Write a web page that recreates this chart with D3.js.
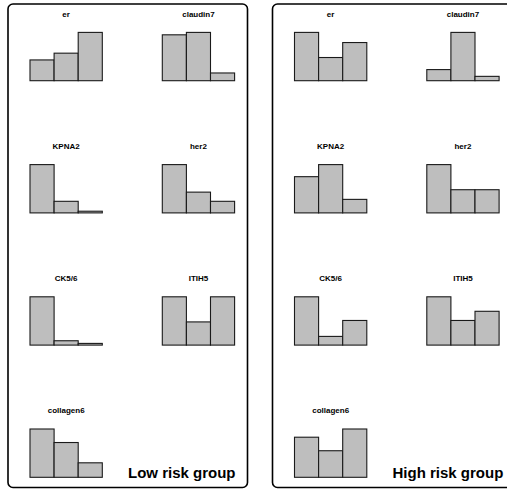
<!DOCTYPE html>
<html>
<head>
<meta charset="utf-8">
<script src="https://cdn.jsdelivr.net/npm/d3@7"></script>
<style>
  html, body { margin: 0; padding: 0; background: #fff; }
  svg { display: block; }
  text { font-family: "Liberation Sans", Arial, Helvetica, sans-serif; font-weight: bold; }
</style>
</head>
<body>
<svg id="chart" width="507" height="490"></svg>
<script>
// ---- data ----
const genes = ["er", "claudin7", "KPNA2", "her2", "CK5/6", "ITIH5", "collagen6"];
const bins = ["low", "mid", "high"];
const lowRisk = [
  [0.43, 0.57, 1.0],
  [0.95, 1.0, 0.16],
  [1.0, 0.24, 0.035],
  [1.0, 0.43, 0.24],
  [1.0, 0.09, 0.035],
  [1.0, 0.48, 1.0],
  [1.0, 0.72, 0.30]
];
const highRisk = [
  [1.0, 0.48, 0.79],
  [0.23, 1.0, 0.09],
  [0.75, 1.0, 0.28],
  [1.0, 0.48, 0.48],
  [1.0, 0.18, 0.51],
  [1.0, 0.51, 0.70],
  [0.83, 0.55, 1.0]
];
const groupLabels = ["Low risk group", "High risk group"];
const groups = [lowRisk, highRisk];

// ---- layout ----
const svg = d3.select("#chart");
const panelX = d3.scaleLinear().domain([0, 1]).range([8, 272.5]);
const panelW = 239.5, panelTop = 4, panelH = 483.5;
const colX = d3.scaleLinear().domain([0, 1]).range([22, 154.3]);
const rowBase = d3.scaleLinear().domain([0, 1]).range([80.7, 212.9]);
const barW = 72.3, barH = 48.3;
const xBand = d3.scaleBand().domain(bins).range([0, barW]).padding(0);

groups.forEach((vals, gi) => {
  const g = svg.append("g").attr("transform", `translate(${panelX(gi)},0)`);
  g.append("rect")
    .attr("x", 0).attr("y", panelTop)
    .attr("width", panelW).attr("height", panelH)
    .attr("rx", 5).attr("ry", 5)
    .attr("fill", "none").attr("stroke", "#000").attr("stroke-width", 1.6);

  genes.forEach((gene, i) => {
    const col = i % 2, row = Math.floor(i / 2);
    const cg = g.append("g")
      .attr("transform", `translate(${colX(col)},${rowBase(row) - barH})`);
    const y = d3.scaleLinear().domain([0, d3.max(vals[i])]).range([barH, 0]);
    cg.selectAll("rect").data(vals[i]).join("rect")
      .attr("x", (d, j) => xBand(bins[j]))
      .attr("y", d => y(d))
      .attr("width", xBand.bandwidth())
      .attr("height", d => barH - y(d))
      .attr("fill", "#bebebe")
      .attr("stroke", "#1a1a1a")
      .attr("stroke-width", 1.1);
    cg.append("text")
      .attr("x", barW / 2)
      .attr("y", barH - 63.9)
      .attr("text-anchor", "middle")
      .attr("font-size", 8)
      .attr("fill", "#000")
      .text(gene);
  });

  g.append("text")
    .attr("x", 120)
    .attr("y", 477.7)
    .attr("font-size", 15)
    .attr("fill", "#000")
    .text(groupLabels[gi]);
});
</script>
</body>
</html>
